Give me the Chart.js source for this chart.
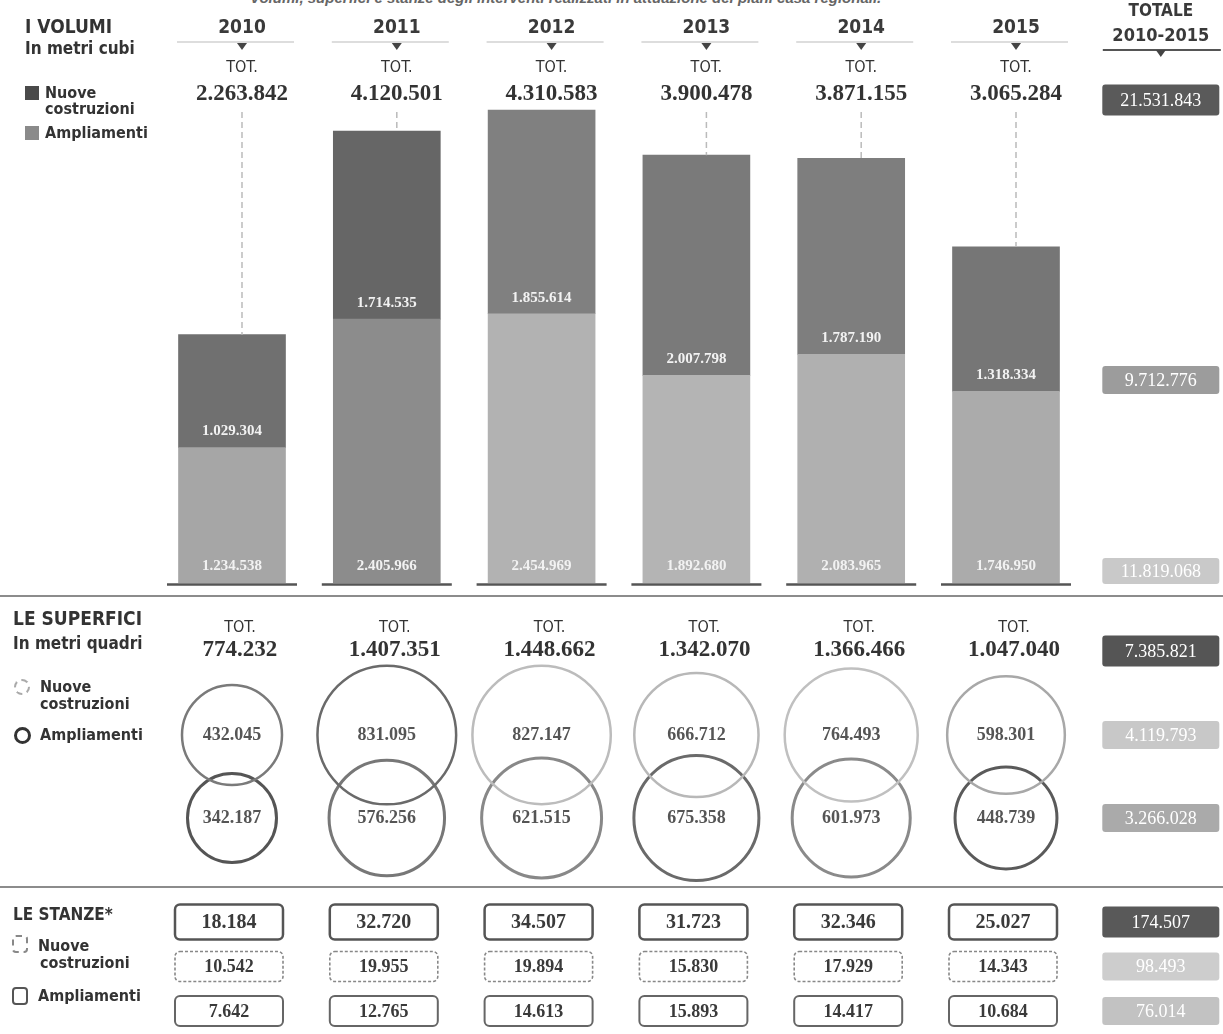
<!DOCTYPE html>
<html lang="it">
<head>
<meta charset="utf-8">
<title>Piani casa 2010-2015: volumi, superfici, stanze</title>
<script src="https://cdn.jsdelivr.net/npm/chart.js@4.4.1/dist/chart.umd.min.js"></script>
<style>
  body { margin: 0; background: #fff; }
  #page {
    position: relative; width: 1223px; height: 1034px; overflow: hidden; background: #fff;
    font-family: "Liberation Sans Narrow", "DejaVu Sans Condensed", "Roboto Condensed", sans-serif;
    color: #333;
  }
  canvas { position: absolute; left: 0; }
  #cVol { top: 0; }
  #cSup { top: 600px; }
  #cRooms { top: 890px; }
  .lbl { position: absolute; font-weight: bold; white-space: nowrap; line-height: 1; }
  .title { font-size: 19px; }
  .sub { font-size: 17px; }
  .leg { font-size: 16px; }
  .ico { position: absolute; box-sizing: border-box; }
  .kicker { position: absolute; top: -11px; left: 250px; font: italic bold 15px "Liberation Sans", sans-serif; color: #666; white-space: nowrap; }
</style>
</head>
<body>
<div id="page">
  <div class="kicker">Volumi, superfici e stanze degli interventi realizzati in attuazione dei piani casa regionali.</div>

  <canvas id="cVol" width="1223" height="600"></canvas>
  <canvas id="cSup" width="1223" height="290"></canvas>
  <canvas id="cRooms" width="1223" height="144"></canvas>

  <!-- I volumi -->
  <div class="lbl title" style="left:25px;top:17px;">I VOLUMI</div>
  <div class="lbl sub" style="left:25px;top:40px;">In metri cubi</div>
  <div class="ico" style="left:25px;top:86px;width:14px;height:14px;background:#4a4a4a;"></div>
  <div class="lbl leg" style="left:45px;top:85px;">Nuove</div>
  <div class="lbl leg" style="left:45px;top:101px;">costruzioni</div>
  <div class="ico" style="left:25px;top:126px;width:14px;height:14px;background:#8a8a8a;"></div>
  <div class="lbl leg" style="left:45px;top:125px;">Ampliamenti</div>

  <!-- Le superfici -->
  <div class="lbl title" style="left:13px;top:609px;">LE SUPERFICI</div>
  <div class="lbl sub" style="left:13px;top:635px;">In metri quadri</div>
  <div class="ico" style="left:14px;top:679px;width:16px;height:16px;border:2px dashed #aaa;border-radius:50%;"></div>
  <div class="lbl leg" style="left:40px;top:679px;">Nuove</div>
  <div class="lbl leg" style="left:40px;top:696px;">costruzioni</div>
  <div class="ico" style="left:14px;top:727px;width:17px;height:17px;border:3px solid #333;border-radius:50%;"></div>
  <div class="lbl leg" style="left:40px;top:727px;">Ampliamenti</div>

  <!-- Le stanze -->
  <div class="lbl sub" style="left:13px;top:906px;">LE STANZE*</div>
  <div class="ico" style="left:12px;top:935px;width:16px;height:18px;border:2px dashed #888;border-radius:4px;"></div>
  <div class="lbl leg" style="left:38px;top:938px;">Nuove</div>
  <div class="lbl leg" style="left:40px;top:955px;">costruzioni</div>
  <div class="ico" style="left:12px;top:987px;width:16px;height:18px;border:2px solid #555;border-radius:4px;"></div>
  <div class="lbl leg" style="left:38px;top:988px;">Ampliamenti</div>
</div>

<script>
// Data
const years = ['2010', '2011', '2012', '2013', '2014', '2015'];

const volTot = [2263842, 4120501, 4310583, 3900478, 3871155, 3065284];
const volNuove = [1234538, 2405966, 2454969, 1892680, 2083965, 1746950];
const volAmpl = [1029304, 1714535, 1855614, 2007798, 1787190, 1318334];
const volTotals = [21531843, 9712776, 11819068];

const supTot = [774232, 1407351, 1448662, 1342070, 1366466, 1047040];
const supNuove = [432045, 831095, 827147, 666712, 764493, 598301];
const supAmpl = [342187, 576256, 621515, 675358, 601973, 448739];
const supTotals = [7385821, 4119793, 3266028];

const roomsTot = [18184, 32720, 34507, 31723, 32346, 25027];
const roomsNuove = [10542, 19955, 19894, 15830, 17929, 14343];
const roomsAmpl = [7642, 12765, 14613, 15893, 14417, 10684];
const roomsTotals = [174507, 98493, 76014];

// Styles
const SANS = '"Liberation Sans Narrow", "DejaVu Sans Condensed", sans-serif';
const SERIF = '"Liberation Serif", "DejaVu Serif", serif';
const volNuoveCol = ['#a6a6a6', '#8c8c8c', '#b2b2b2', '#b4b4b4', '#b0b0b0', '#ababab'];
const volAmplCol = ['#707070', '#666666', '#808080', '#7a7a7a', '#7e7e7e', '#767676'];
const supNuoveCol = ['#7a7a7a', '#6a6a6a', '#bcbcbc', '#b8b8b8', '#c0c0c0', '#a8a8a8'];
const supAmplCol = ['#555555', '#777777', '#888888', '#6a6a6a', '#8a8a8a', '#5a5a5a'];

const fmt = v => String(v).replace(/\B(?=(\d{3})+(?!\d))/g, '.');

// shared x layout: one unit per year column, column 6 = totals
const xAxis = { type: 'linear', display: false, offset: false, min: -1.4987, max: 6.4018 };

function line(ctx, x1, y1, x2, y2, color, w, dash) {
    ctx.save();
    ctx.strokeStyle = color;
    ctx.lineWidth = w;
    ctx.setLineDash(dash || []);
    ctx.beginPath();
    ctx.moveTo(x1, y1);
    ctx.lineTo(x2, y2);
    ctx.stroke();
    ctx.restore();
}

function label(ctx, txt, x, y, font, color) {
    ctx.font = font;
    ctx.fillStyle = color;
    ctx.textAlign = 'center';
    ctx.textBaseline = 'middle';
    ctx.fillText(txt, x, y);
}

function arrow(ctx, x, y, color) {
    ctx.fillStyle = color;
    ctx.beginPath();
    ctx.moveTo(x - 5, y);
    ctx.lineTo(x + 5, y);
    ctx.lineTo(x, y + 7);
    ctx.closePath();
    ctx.fill();
}

function rbox(ctx, cx, cy, w, h, opts) {
    ctx.save();
    ctx.beginPath();
    ctx.roundRect(cx - w / 2, cy - h / 2, w, h, opts.radius || 3);
    if (opts.fill) {
        ctx.fillStyle = opts.fill;
        ctx.fill();
    }
    if (opts.stroke) {
        ctx.strokeStyle = opts.stroke;
        ctx.lineWidth = opts.lw || 2;
        ctx.setLineDash(opts.dash || []);
        ctx.stroke();
    }
    ctx.restore();
}

const common = {
    responsive: false,
    animation: false,
    events: [],
    layout: { autoPadding: false, padding: 0 },
    plugins: { legend: { display: false }, tooltip: { enabled: false } }
};

// Volumi
const volText = {
    id: 'volText',
    afterDatasetsDraw(chart) {
        const { ctx, scales: { x, y } } = chart;
        const base = y.getPixelForValue(0);
        ctx.save();
        years.forEach((yr, i) => {
            const cx = x.getPixelForValue(i);
            const tx = cx + 10;
            line(ctx, cx - 55, 42, cx + 62, 42, '#d2d2d2', 1.5);
            arrow(ctx, tx, 43, '#444');
            label(ctx, yr, tx, 28, 'bold 19px ' + SANS, '#3a3a3a');
            label(ctx, 'TOT.', tx, 68, '16px ' + SANS, '#333');
            label(ctx, fmt(volTot[i]), tx, 94, 'bold 23px ' + SERIF, '#333');

            const top = y.getPixelForValue(volTot[i]);
            if (top - 112 > 6) line(ctx, tx, 112, tx, top, '#bbbbbb', 1.5, [6, 4]);

            const mid = y.getPixelForValue(volNuove[i]);
            label(ctx, fmt(volAmpl[i]), cx, mid - 16, 'bold 15px ' + SERIF, '#f2f2f2');
            label(ctx, fmt(volNuove[i]), cx, base - 17, 'bold 15px ' + SERIF, '#f2f2f2');

            line(ctx, cx - 65, base + 1.5, cx + 65, base + 1.5, '#555', 2.5);
        });

        const tc = x.getPixelForValue(6);
        label(ctx, 'TOTALE', tc, 12, 'bold 17px ' + SANS, '#3a3a3a');
        label(ctx, '2010-2015', tc, 36, 'bold 18px ' + SANS, '#3a3a3a');
        line(ctx, tc - 58, 50, tc + 60, 50, '#555', 2);
        arrow(ctx, tc, 50, '#444');
        const boxFont = '18px ' + SERIF;
        rbox(ctx, tc, 100, 117, 31, { fill: '#5a5a5a' });
        label(ctx, fmt(volTotals[0]), tc, 101, boxFont, '#fff');
        rbox(ctx, tc, 380, 117, 28, { fill: '#9c9c9c' });
        label(ctx, fmt(volTotals[1]), tc, 381, boxFont, '#fff');
        rbox(ctx, tc, base - 12, 117, 26, { fill: '#c9c9c9' });
        label(ctx, fmt(volTotals[2]), tc, base - 11, boxFont, '#fff');

        line(ctx, 0, 596, 1223, 596, '#8c8c8c', 2);
        ctx.restore();
    }
};

new Chart(document.getElementById('cVol'), {
    type: 'bar',
    data: {
        datasets: [
            {
                label: 'Nuove costruzioni',
                data: volNuove.map((v, i) => ({ x: i, y: v })),
                backgroundColor: volNuoveCol,
                barThickness: 107
            },
            {
                label: 'Ampliamenti',
                data: volAmpl.map((v, i) => ({ x: i, y: v })),
                backgroundColor: volAmplCol,
                barThickness: 107
            }
        ]
    },
    options: {
        ...common,
        layout: { autoPadding: false, padding: { top: 0, bottom: 17, left: 0, right: 0 } },
        scales: {
            x: { ...xAxis, stacked: true },
            y: { display: false, stacked: true, min: 0, max: 5315000 }
        }
    },
    plugins: [volText]
});

// Superfici
const supText = {
    id: 'supText',
    afterDatasetsDraw(chart) {
        const { ctx, scales: { x, y } } = chart;
        ctx.save();
        years.forEach((yr, i) => {
            const tx = x.getPixelForValue(i) + 8;
            label(ctx, 'TOT.', tx, 28, '16px ' + SANS, '#333');
            label(ctx, fmt(supTot[i]), tx, 50, 'bold 23px ' + SERIF, '#333');
        });
        [supNuove, supAmpl].forEach((arr, d) => {
            chart.getDatasetMeta(d).data.forEach((pt, i) => {
                label(ctx, fmt(arr[i]), pt.x, pt.y, 'bold 18px ' + SERIF, '#555');
            });
        });
        const tc = x.getPixelForValue(6);
        const boxFont = '18px ' + SERIF;
        rbox(ctx, tc, 51, 117, 31, { fill: '#555' });
        label(ctx, fmt(supTotals[0]), tc, 52, boxFont, '#fff');
        rbox(ctx, tc, y.getPixelForValue(1), 117, 28, { fill: '#c8c8c8' });
        label(ctx, fmt(supTotals[1]), tc, y.getPixelForValue(1) + 1, boxFont, '#fff');
        rbox(ctx, tc, y.getPixelForValue(0), 117, 28, { fill: '#aaaaaa' });
        label(ctx, fmt(supTotals[2]), tc, y.getPixelForValue(0) + 1, boxFont, '#fff');

        line(ctx, 0, 287, 1223, 287, '#8c8c8c', 2);
        ctx.restore();
    }
};

const rk = 50 / Math.sqrt(supNuove[0]);
new Chart(document.getElementById('cSup'), {
    type: 'bubble',
    data: {
        datasets: [
            {
                label: 'Nuove costruzioni',
                data: supNuove.map((v, i) => ({ x: i, y: 1, r: rk * Math.sqrt(v) })),
                backgroundColor: 'rgba(0,0,0,0)',
                borderColor: supNuoveCol,
                borderWidth: 2.5,
                clip: false
            },
            {
                label: 'Ampliamenti',
                data: supAmpl.map((v, i) => ({ x: i, y: 0, r: rk * Math.sqrt(v) })),
                backgroundColor: 'rgba(0,0,0,0)',
                borderColor: supAmplCol,
                borderWidth: 3,
                clip: false
            }
        ]
    },
    options: {
        ...common,
        scales: {
            x: xAxis,
            y: { display: false, min: -0.8675, max: 2.6265 }
        }
    },
    plugins: [supText]
});

// Stanze
const roomRows = [roomsTot, roomsNuove, roomsAmpl];
const roomStyle = [
    { h: 35, stroke: '#555', lw: 2.5, font: 'bold 20px ' + SERIF },
    { h: 30, stroke: '#888', lw: 1.6, dash: [3, 2], font: 'bold 18px ' + SERIF },
    { h: 30, stroke: '#666', lw: 2, font: 'bold 18px ' + SERIF }
];
const roomTotFill = ['#595959', '#cdcdcd', '#c2c2c2'];

const roomsText = {
    id: 'roomsText',
    afterDatasetsDraw(chart) {
        const { ctx } = chart;
        ctx.save();
        roomRows.forEach((arr, r) => {
            const st = roomStyle[r];
            const pts = chart.getDatasetMeta(r).data;
            pts.forEach((pt, i) => {
                if (i < years.length) {
                    rbox(ctx, pt.x - 3, pt.y, 108, st.h, { stroke: st.stroke, lw: st.lw, dash: st.dash, radius: 5 });
                    label(ctx, fmt(arr[i]), pt.x - 3, pt.y + 1, st.font, '#3a3a3a');
                } else {
                    rbox(ctx, pt.x, pt.y, 117, r === 0 ? 31 : 28, { fill: roomTotFill[r] });
                    label(ctx, fmt(roomsTotals[r]), pt.x, pt.y + 1, '18px ' + SERIF, '#fff');
                }
            });
        });
        ctx.restore();
    }
};

new Chart(document.getElementById('cRooms'), {
    type: 'scatter',
    data: {
        datasets: roomRows.map((arr, r) => ({
            label: ['Totale', 'Nuove costruzioni', 'Ampliamenti'][r],
            data: arr.map((v, i) => ({ x: i, y: r })).concat([{ x: 6, y: r }]),
            pointRadius: 0
        }))
    },
    options: {
        ...common,
        scales: {
            x: xAxis,
            y: { display: false, reverse: true, min: -0.719, max: 2.517 }
        }
    },
    plugins: [roomsText]
});
</script>
</body>
</html>
